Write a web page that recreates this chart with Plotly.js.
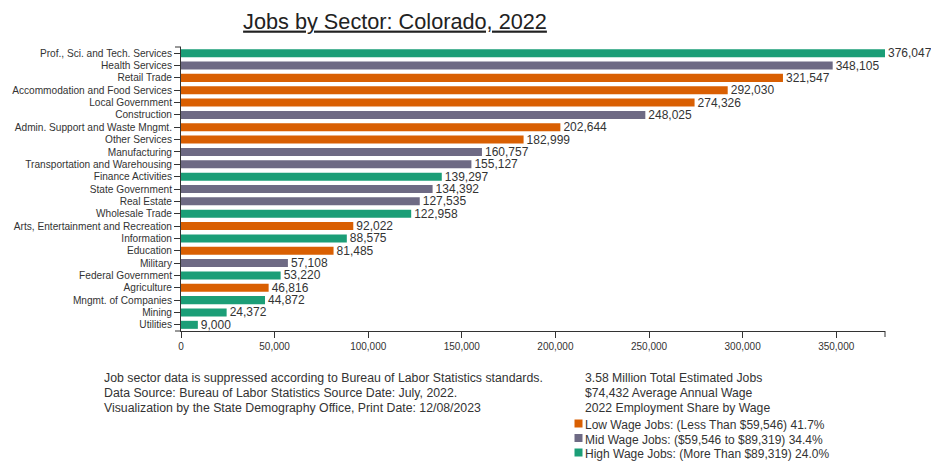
<!DOCTYPE html>
<html>
<head>
<meta charset="utf-8">
<script src="https://cdn.plot.ly/plotly-3.0.1.min.js"></script>
<style>
  html, body { margin: 0; padding: 0; background: #fff; }
  #chart { width: 931px; height: 462px; }
</style>
</head>
<body>
<div id="chart"></div>
<script>
// ---- Data ----
const sectors = [
  'Prof., Sci. and Tech. Services', 'Health Services', 'Retail Trade',
  'Accommodation and Food Services', 'Local Government', 'Construction',
  'Admin. Support and Waste Mngmt.', 'Other Services', 'Manufacturing',
  'Transportation and Warehousing', 'Finance Activities', 'State Government',
  'Real Estate', 'Wholesale Trade', 'Arts, Entertainment and Recreation',
  'Information', 'Education', 'Military', 'Federal Government', 'Agriculture',
  'Mngmt. of Companies', 'Mining', 'Utilities'
];
const jobs = [
  376047, 348105, 321547, 292030, 274326, 248025, 202644, 182999, 160757,
  155127, 139297, 134392, 127535, 122958, 92022, 88575, 81485, 57108, 53220,
  46816, 44872, 24372, 9000
];
const wageClass = [
  'High', 'Mid', 'Low', 'Low', 'Low', 'Mid', 'Low', 'Low', 'Mid', 'Mid',
  'High', 'Mid', 'Mid', 'High', 'Low', 'High', 'Low', 'Mid', 'High', 'Low',
  'High', 'High', 'High'
];
const xTickValues = [0, 50000, 100000, 150000, 200000, 250000, 300000, 350000];
const titleText = 'Jobs by Sector: Colorado, 2022';
const noteLines = [
  'Job sector data is suppressed according to Bureau of Labor Statistics standards.',
  'Data Source: Bureau of Labor Statistics Source Date: July, 2022.',
  'Visualization by the State Demography Office, Print Date: 12/08/2023'
];
const summaryLines = [
  '3.58 Million Total Estimated Jobs',
  '$74,432 Average Annual Wage',
  '2022 Employment Share by Wage'
];
const legendClasses = ['Low', 'Mid', 'High'];
const legendLabels = [
  'Low Wage Jobs: (Less Than $59,546) 41.7%',
  'Mid Wage Jobs: ($59,546 to $89,319) 34.4%',
  'High Wage Jobs: (More Than $89,319) 24.0%'
];

// ---- Styles ----
const classColors = { Low: '#d95f02', Mid: '#6e6a84', High: '#1b9e77' };
const FONT = 'Arial, "Liberation Sans", sans-serif';
const TXT = '#333';

// plot area in pixels
const PL = 181, PR = 885, PT = 47, PB = 331;
const px = (X) => (X - PL) / (PR - PL);
const py = (Y) => (PB - Y) / (PB - PT);

const trace = {
  type: 'bar',
  orientation: 'h',
  y: sectors,
  x: jobs,
  marker: { color: wageClass.map(c => classColors[c]), line: { width: 0 } },
  text: jobs.map(v => v.toLocaleString('en-US')),
  textposition: 'outside',
  constraintext: 'none',
  cliponaxis: false,
  textfont: { family: FONT, size: 12, color: TXT },
  hoverinfo: 'none'
};

const annotations = [];
noteLines.forEach((t, i) => {
  annotations.push({
    xref: 'paper', yref: 'paper', x: px(102), y: py(378 + i * 15),
    xanchor: 'left', yanchor: 'middle', showarrow: false, align: 'left',
    text: t, font: { family: FONT, size: 12.3, color: TXT }
  });
});
summaryLines.forEach((t, i) => {
  annotations.push({
    xref: 'paper', yref: 'paper', x: px(583), y: py(378 + i * 15),
    xanchor: 'left', yanchor: 'middle', showarrow: false, align: 'left',
    text: t, font: { family: FONT, size: 12.2, color: TXT }
  });
});
const legendY = [425, 439.5, 454];
const shapes = [];
legendLabels.forEach((t, i) => {
  annotations.push({
    xref: 'paper', yref: 'paper', x: px(583), y: py(legendY[i]),
    xanchor: 'left', yanchor: 'middle', showarrow: false, align: 'left',
    text: t, font: { family: FONT, size: 12, color: TXT }
  });
  const cy = legendY[i] - 1.5;
  shapes.push({
    type: 'rect', xref: 'paper', yref: 'paper',
    x0: px(574.5), x1: px(582.5), y0: py(cy + 4), y1: py(cy - 4),
    fillcolor: classColors[legendClasses[i]], line: { width: 0 }
  });
});
// d3-style outer ticks at axis ends
shapes.push({ type: 'line', xref: 'paper', yref: 'paper', x0: px(PL - 6), x1: 0, y0: 1, y1: 1, line: { color: '#333', width: 1 } });
shapes.push({ type: 'line', xref: 'paper', yref: 'paper', x0: px(PL - 6), x1: 0, y0: 0, y1: 0, line: { color: '#333', width: 1 } });
shapes.push({ type: 'line', xref: 'paper', yref: 'paper', x0: 1, x1: 1, y0: 0, y1: py(PB + 6), line: { color: '#333', width: 1 } });

const layout = {
  width: 931, height: 462, autosize: false,
  margin: { l: PL, r: 931 - PR, t: PT, b: 462 - PB, pad: 0 },
  paper_bgcolor: '#fff', plot_bgcolor: '#fff',
  showlegend: false,
  bargap: 0.35,
  font: { family: FONT, color: TXT },
  title: {
    text: '<u>' + titleText + '</u>',
    font: { family: FONT, size: 21.7, color: '#222' },
    xref: 'container', yref: 'container',
    x: 395 / 931, xanchor: 'center',
    y: 1 - 21 / 462, yanchor: 'middle'
  },
  xaxis: {
    range: [0, jobs[0]],
    tickvals: xTickValues,
    tickformat: ',',
    ticks: 'outside', ticklen: 6, tickwidth: 1, tickcolor: '#333',
    showline: true, linecolor: '#333', linewidth: 1,
    showgrid: false, zeroline: false,
    tickfont: { family: FONT, size: 10, color: TXT },
    fixedrange: true
  },
  yaxis: {
    type: 'category',
    range: [sectors.length - 0.5, -0.5],
    ticks: 'outside', ticklen: 6, tickwidth: 1, tickcolor: '#333',
    showline: true, linecolor: '#333', linewidth: 1,
    showgrid: false, zeroline: false,
    tickfont: { family: FONT, size: 10.15, color: TXT },
    fixedrange: true
  },
  annotations: annotations,
  shapes: shapes
};

Plotly.newPlot('chart', [trace], layout, { displayModeBar: false, staticPlot: true });
</script>
</body>
</html>
